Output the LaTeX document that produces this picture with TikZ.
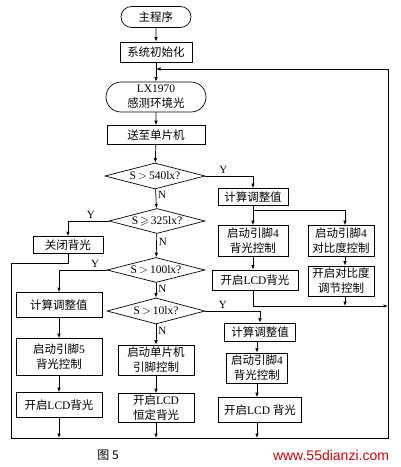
\documentclass[tikz,border=0pt]{standalone}
\usepackage{amssymb}
\usepackage{fontspec}
\setmainfont{Liberation Serif}
\newfontfamily\cjk{Noto Sans CJK SC}
\newfontfamily\websans{Liberation Sans}
\newcommand{\lat}[1]{{\rmfamily #1}}
\usetikzlibrary{arrows.meta,shapes.geometric,shapes.misc}

\begin{document}
\begin{tikzpicture}[
  x=1pt, y=-1pt,
  font=\cjk\fontsize{11.5}{15}\selectfont,
  line width=0.7pt,
  term/.style={draw, rounded rectangle, inner sep=1pt, align=center},
  proc/.style={draw, align=center, inner sep=1pt},
  decide/.style={draw, diamond, aspect=3.8, inner sep=0pt},
  flow/.style={-{Latex[length=4.5pt,width=3.5pt]}},
  yn/.style={font=\rmfamily\fontsize{11}{13}\selectfont, inner sep=2pt}
]
\useasboundingbox (0,0) rectangle (400,467);

% main column
\node[term, minimum width=72pt, minimum height=21pt] (start) at (156,17) {主程序};
\node[proc, minimum width=72pt, minimum height=20pt] (init) at (156,52) {系统初始化};
\node[term, minimum width=102pt, minimum height=30pt] (sense) at (156,97) {\lat{LX1970}\\感测环境光};
\node[proc, minimum width=98pt, minimum height=19pt] (send) at (156,135) {送至单片机};
\node[decide, minimum width=100pt, minimum height=26pt] (d540) at (155,176) {\lat{S\,$>$\,540lx?}};
\node[decide, minimum width=96pt, minimum height=25pt] (d325) at (157,221) {\lat{S\,$\geqslant$\,325lx?}};
\node[decide, minimum width=98pt, minimum height=25pt] (d100) at (156,270) {\lat{S\,$>$\,100lx?}};
\node[decide, minimum width=98pt, minimum height=26pt] (d10) at (156,311) {\lat{S\,$>$\,10lx?}};
\node[proc, minimum width=76pt, minimum height=30pt] (pinB) at (156,360) {启动单片机\\引脚控制};
\node[proc, minimum width=76pt, minimum height=29pt] (lcdB) at (156,408) {开启\lat{LCD}\\恒定背光};

% right branch (S>540lx)
\node[proc, minimum width=70pt, minimum height=17pt] (calcA) at (253,197) {计算调整值};
\node[proc, minimum width=70pt, minimum height=31pt] (pinA) at (253,241) {启动引脚\lat{4}\\背光控制};
\node[proc, minimum width=86pt, minimum height=20pt] (lcdA) at (255,280) {开启\lat{LCD}背光};
\node[proc, minimum width=66pt, minimum height=31pt] (conA) at (341,241) {启动引脚\lat{4}\\对比度控制};
\node[proc, minimum width=66pt, minimum height=30pt] (conB) at (341,281) {开启对比度\\调节控制};

% left branches
\node[proc, minimum width=70pt, minimum height=17pt] (off) at (68,245) {关闭背光};
\node[proc, minimum width=86pt, minimum height=25pt] (calcB) at (59,305) {计算调整值};
\node[proc, minimum width=86pt, minimum height=37pt] (pinL) at (59,357) {启动引脚\lat{5}\\背光控制};
\node[proc, minimum width=86pt, minimum height=25pt] (lcdL) at (59,405) {开启\lat{LCD}背光};

% right branch (S>10lx)
\node[proc, minimum width=71pt, minimum height=18pt] (calcC) at (260,332) {计算调整值};
\node[proc, minimum width=61pt, minimum height=30pt] (pinC) at (257,368) {启动引脚\lat{4}\\背光控制};
\node[proc, minimum width=83pt, minimum height=25pt] (lcdC) at (260,410) {开启\lat{LCD} 背光};

% loop corners
\coordinate (ret) at (156,69);
\coordinate (lft) at (11,263);
\coordinate (bot) at (388,438);
\coordinate (mid) at (388,306);

\draw[flow] (start) -- (init);
\draw[flow] (init) -- (sense);
\draw[flow] (sense) -- (send);
\draw[flow] (send) -- (d540);

\draw[flow] (d540.east) -| node[yn, pos=0.19, above] {Y} (calcA);
\draw[flow] (d540) -- node[yn, pos=0.3, right] {N} (d325);
\draw[flow] (calcA) -- (pinA);
\draw[flow] (calcA.south |- 0,210) -| ([xshift=4pt]conA.north);
\draw[flow] (pinA) -- (pinA |- lcdA.north);
\draw[flow] ([xshift=4pt]conA.south) -- ([xshift=4pt]conB.north);
\draw[flow] (lcdA.south -| pinA) |- (mid);
\draw[flow] ([xshift=4pt]conB.south) -- ([xshift=4pt]conB.south |- mid);

\draw[flow] (d325.west) -| node[yn, pos=0.22, above] {Y} (off);
\draw[flow] (d325) -- node[yn, pos=0.35, right] {N} (d100);
\draw[flow] (d100.west) -| node[yn, pos=0.12, above] {Y} (calcB);
\draw[flow] (d100) -- node[yn, pos=0.4, right] {N} (d10);
\draw[flow] (d10.east) -| node[yn, pos=0.16, above] {Y} (calcC);
\draw[flow] (d10) -- node[yn, pos=0.3, right] {N} (pinB);

\draw[flow] (calcB) -- (pinL);
\draw[flow] (pinL) -- (lcdL);
\draw[flow] (lcdL) -- (lcdL.south |- bot);
\draw[flow] (pinB) -- (lcdB);
\draw[flow] (lcdB) -- (lcdB.south |- bot);
\draw[flow] (calcC.south -| pinC) -- (pinC);
\draw[flow] (pinC.south) -- (pinC.south |- lcdC.north);
\draw[flow] (lcdC.south -| pinC) -- (pinC.south |- bot);

% return loop
\draw[flow] (off.south) |- (lft) |- (bot) |- (ret);

\node[font=\cjk\fontsize{12}{14}\selectfont] (cap) at (108,455) {图 5};
\node[font=\websans\fontsize{14}{16}\selectfont, text=red!85!black, inner sep=0pt] (web) at (331,455) {www.55dianzi.com};
\end{tikzpicture}
\end{document}
